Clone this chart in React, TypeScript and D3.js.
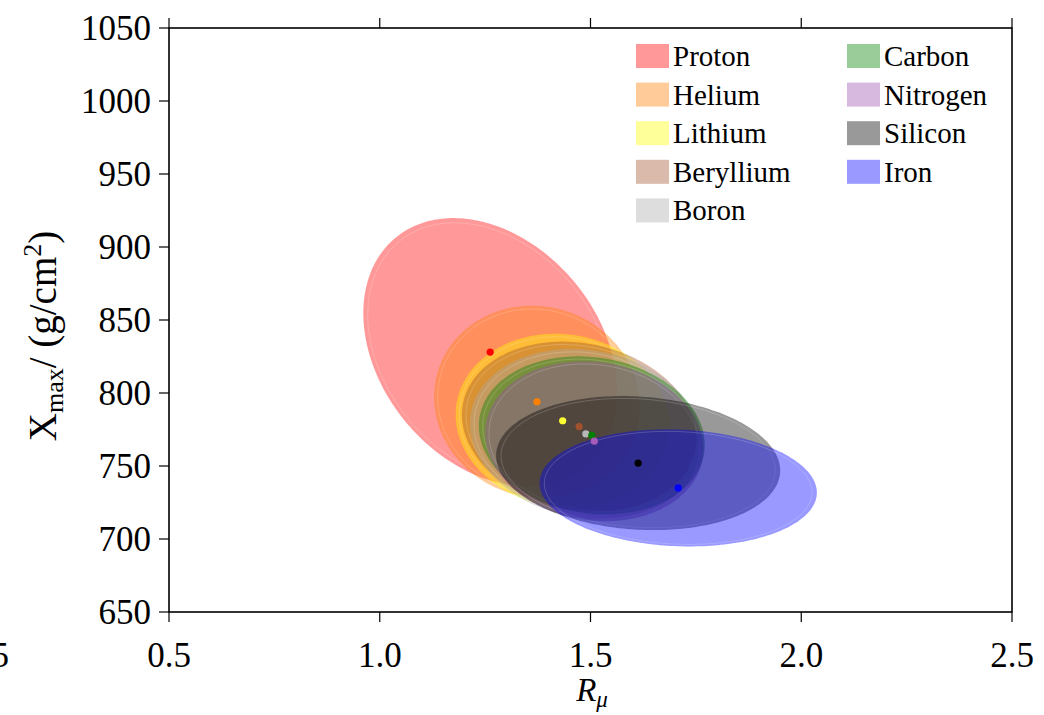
import React from "react";
import * as d3 from "d3";

// Composition groups: mean (R_mu, Xmax), 1-sigma spreads and correlation
const species = ["Proton", "Helium", "Lithium", "Beryllium", "Boron", "Carbon", "Nitrogen", "Silicon", "Iron"];
const meanR = [1.262, 1.373, 1.434, 1.473, 1.489, 1.503, 1.509, 1.613, 1.708];
const meanX = [828, 794, 781, 777, 772, 771, 767, 752, 735];
const sigmaR = [0.301, 0.244, 0.254, 0.278, 0.275, 0.268, 0.259, 0.337, 0.329];
const sigmaX = [91.8, 65.8, 59.6, 58.2, 58.2, 54.1, 54.8, 45.9, 40.1];
const corr = [-0.29, -0.05, -0.07, -0.14, -0.12, -0.12, -0.1, -0.11, -0.08];
const colors = ["#ff0000", "#ff7f00", "#ffff00", "#a0522d", "#a9a9a9", "#008000", "#9b4fb0", "#000000", "#0000ff"];
const dotColors = ["#ff0000", "#ff8000", "#ffff33", "#a0522d", "#b8b8b8", "#008000", "#a45cb8", "#000000", "#0000ff"];

const xTicks = [0.5, 1.0, 1.5, 2.0, 2.5];
const yTicks = [650, 700, 750, 800, 850, 900, 950, 1000, 1050];

const W = 1044;
const H = 715;
const M = { left: 169, right: 1012, top: 28, bottom: 612 };
const FONT = "'Liberation Serif', 'Times New Roman', serif";
const ALPHA = 0.4;

export default function App() {
  const x = d3.scaleLinear().domain([0.5, 2.5]).range([M.left, M.right]);
  const y = d3.scaleLinear().domain([650, 1050]).range([M.bottom, M.top]);

  const ellipsePath = (i: number, scale = 1) => {
    const n = 240;
    const pts: [number, number][] = d3.range(n).map((k) => {
      const t = (2 * Math.PI * k) / n;
      const r = corr[i];
      const dr = sigmaR[i] * scale * Math.cos(t);
      const dx = sigmaX[i] * scale * (r * Math.cos(t) + Math.sqrt(1 - r * r) * Math.sin(t));
      return [x(meanR[i] + dr), y(meanX[i] + dx)];
    });
    return d3.line().curve(d3.curveLinearClosed)(pts) || "";
  };

  const tickLen = 10;

  return (
    <svg
      width={W}
      height={H}
      style={{ position: "absolute", left: 0, top: 0, background: "#fff" }}
      fontFamily={FONT}
    >
      <defs>
        <clipPath id="plotClip">
          <rect x={M.left} y={M.top} width={M.right - M.left} height={M.bottom - M.top} />
        </clipPath>
      </defs>

      {/* confidence ellipses */}
      <g clipPath="url(#plotClip)">
        {species.map((s, i) => (
          <g key={s}>
            <path d={ellipsePath(i)} fill={colors[i]} fillOpacity={ALPHA} stroke="none" />
            <path d={ellipsePath(i, 0.965)} fill="none" stroke="#ffffff" strokeOpacity={0.18} strokeWidth={1} />
          </g>
        ))}
        {species.map((s, i) => (
          <circle key={s + "-dot"} cx={x(meanR[i])} cy={y(meanX[i])} r={3.6} fill={dotColors[i]} />
        ))}
      </g>

      {/* frame */}
      <rect
        x={M.left}
        y={M.top}
        width={M.right - M.left}
        height={M.bottom - M.top}
        fill="none"
        stroke="#000"
        strokeWidth={1.6}
      />

      {/* x ticks (bottom + top) */}
      {xTicks.map((t) => (
        <g key={"xt" + t}>
          <line x1={x(t)} x2={x(t)} y1={M.bottom} y2={M.bottom + tickLen} stroke="#000" strokeWidth={1.2} />
          <line x1={x(t)} x2={x(t)} y1={M.top} y2={M.top - tickLen} stroke="#000" strokeWidth={1.2} />
          <text x={x(t)} y={667} textAnchor="middle" fontSize={35}>
            {t.toFixed(1)}
          </text>
        </g>
      ))}

      {/* y ticks */}
      {yTicks.map((t) => (
        <g key={"yt" + t}>
          <line x1={M.left - tickLen} x2={M.left} y1={y(t)} y2={y(t)} stroke="#000" strokeWidth={1.2} />
          <text x={151} y={y(t) + 12} textAnchor="end" fontSize={35}>
            {t}
          </text>
        </g>
      ))}

      {/* tick label of the neighbouring panel */}
      <text x={9} y={667} textAnchor="end" fontSize={35}>
        5
      </text>

      {/* axis titles */}
      <text x={592} y={701} textAnchor="middle" fontSize={33} fontStyle="italic">
        R<tspan fontSize={23} dy={6}>μ</tspan>
      </text>
      <text transform="translate(56,336) rotate(-90)" textAnchor="middle" fontSize={39}>
        X<tspan fontSize={26} dy={7}>max</tspan>
        <tspan dy={-7}>/ (g/cm</tspan>
        <tspan fontSize={26} dy={-15}>2</tspan>
        <tspan dy={15}>)</tspan>
      </text>

      {/* legend */}
      {species.map((s, i) => {
        const col = i < 5 ? 0 : 1;
        const row = i < 5 ? i : i - 5;
        const sx = col === 0 ? 636 : 847;
        const cy = 56 + row * 38.6;
        return (
          <g key={"lg" + s}>
            <rect x={sx} y={cy - 12} width={33} height={24} fill={colors[i]} fillOpacity={ALPHA} />
            <text x={sx + 37} y={cy + 10} fontSize={29}>
              {s}
            </text>
          </g>
        );
      })}
    </svg>
  );
}
